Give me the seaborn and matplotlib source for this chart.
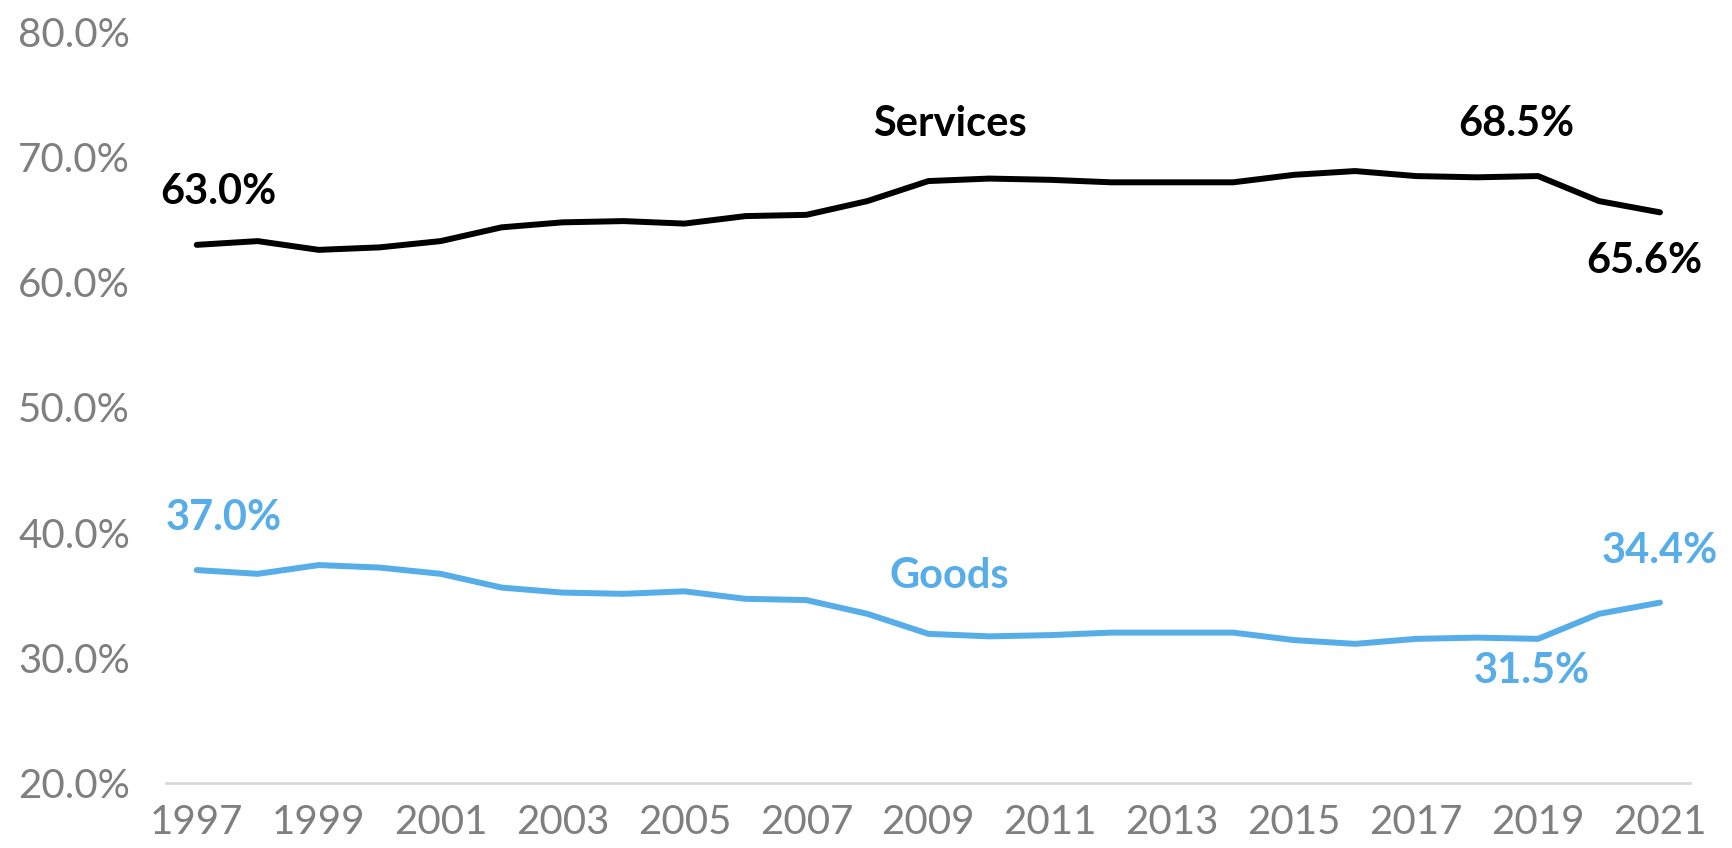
import matplotlib
matplotlib.use("Agg")
import matplotlib.pyplot as plt
import seaborn as sns
import pandas as pd
from matplotlib.ticker import FuncFormatter

years = list(range(1997, 2022))
services = [63.0, 63.3, 62.6, 62.8, 63.3, 64.4, 64.8, 64.9, 64.7, 65.3, 65.4, 66.5,
            68.1, 68.3, 68.2, 68.0, 68.0, 68.0, 68.6, 68.9, 68.5, 68.4, 68.5, 66.5, 65.6]
goods = [37.0, 36.7, 37.4, 37.2, 36.7, 35.6, 35.2, 35.1, 35.3, 34.7, 34.6, 33.5,
         31.9, 31.7, 31.8, 32.0, 32.0, 32.0, 31.4, 31.1, 31.5, 31.6, 31.5, 33.5, 34.4]

BLACK = "#000000"
BLUE = "#56ADE8"
GRAY = "#7F7F7F"

df = pd.DataFrame({
    "year": years * 2,
    "share": services + goods,
    "series": ["Services"] * len(years) + ["Goods"] * len(years),
})

sns.set_theme(style="white")
plt.rcParams["font.family"] = ["Lato", "DejaVu Sans"]

fig = plt.figure(figsize=(17.32, 8.48), dpi=100)
ax = fig.add_axes([0.096, 0.077, 0.880, 0.885])

sns.lineplot(data=df, x="year", y="share", hue="series",
             palette={"Services": BLACK, "Goods": BLUE},
             linewidth=4.3, legend=False, ax=ax)
for ln in ax.get_lines():
    ln.set_solid_capstyle("round")

ax.set_xlim(1996.5, 2021.5)
ax.set_ylim(20, 80)
ax.set_xticks(years[::2])
ax.set_yticks(range(20, 81, 10))
ax.yaxis.set_major_formatter(FuncFormatter(lambda v, _: f"{v:.1f}%"))
ax.tick_params(axis="both", length=0, labelsize=29, labelcolor=GRAY)
ax.tick_params(axis="x", pad=15)
ax.tick_params(axis="y", pad=26)
ax.set_xlabel("")
ax.set_ylabel("")

sns.despine(ax=ax, left=True)
ax.spines["bottom"].set_color("#D9D9D9")
ax.spines["bottom"].set_linewidth(2)

# annotations
lab = dict(fontsize=30, fontweight="bold", ha="center", va="center")
ax.text(1997.35, 67.2, f"{services[0]:.1f}%", color=BLACK, **lab)
ax.text(2018.65, 72.7, f"{services[22]:.1f}%", color=BLACK, **lab)
ax.text(2020.75, 61.7, f"{services[24]:.1f}%", color=BLACK, **lab)
ax.text(2009.35, 72.7, "Services", color=BLACK, **lab)
ax.text(1997.45, 41.2, f"{goods[0]:.1f}%", color=BLUE, **lab)
ax.text(2009.35, 36.5, "Goods", color=BLUE, **lab)
ax.text(2021.0, 38.5, f"{goods[24]:.1f}%", color=BLUE, **lab)
ax.text(2018.9, 28.9, f"{goods[22]:.1f}%", color=BLUE, **lab)

fig.savefig("out.png", dpi=100)
